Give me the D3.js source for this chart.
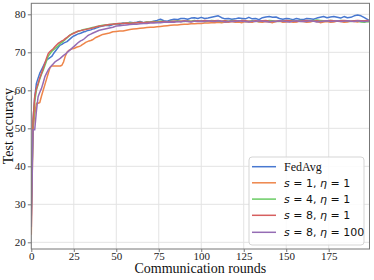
<!DOCTYPE html>
<html><head><meta charset="utf-8">
<script src="https://cdn.jsdelivr.net/npm/d3@7"></script>
<style>body{margin:0;background:#fff}svg{display:block}</style>
</head><body><svg id="c" width="374" height="280"></svg>
<script>
const rounds = [0,1,2,3,4,5,6,7,8,9,10,11,12,13,14,15,16,17,18,19,20,21,22,23,24,25,26,27,28,29,30,31,32,33,34,35,36,37,38,39,
40,42,44,46,48,50,52,54,56,58,60,62,64,66,68,70,72,74,76,78,80,82,84,86,88,90,92,94,96,98,
100,102,104,106,108,110,112,114,116,118,120,122,124,126,128,130,132,134,136,138,140,142,144,146,148,150,152,154,156,158,
160,162,164,166,168,170,172,174,176,178,180,182,184,186,188,190,192,194,196,198,199];
const fedavg = [34.5,52.0,58.0,61.8,63.2,64.5,65.4,66.3,67.2,68.0,
68.3,68.6,68.9,69.6,70.2,70.8,71.4,71.9,72.1,72.4,
72.6,72.8,73.2,73.6,74.0,74.3,74.5,74.7,74.9,75.0,
75.2,75.4,75.5,75.7,75.8,75.9,76.1,76.2,76.4,76.5,
76.7,76.9,77.1,77.0,77.3,77.5,77.4,77.7,77.6,77.9,
77.8,77.9,78.1,77.8,77.9,78.0,78.2,78.4,78.7,78.3,
78.2,78.5,78.7,78.6,78.9,78.9,78.7,79.0,79.1,78.9,
79.2,78.9,79.0,79.2,79.4,79.6,79.1,78.8,78.9,78.7,
78.8,79.0,78.9,78.8,79.2,78.8,78.9,78.6,79.1,79.3,
79.4,79.2,79.3,78.9,78.7,78.9,78.8,78.6,78.9,78.7,
78.6,78.9,78.8,78.7,79.0,79.2,79.4,79.1,79.3,79.4,
79.2,79.0,79.4,79.1,79.2,79.6,79.8,79.6,79.1,78.6,
78.4];
const s1eta1 = [22.0,50.0,53.5,56.6,56.6,56.8,58.5,60.0,61.5,63.0,
64.5,66.0,66.4,66.4,66.4,66.4,66.4,66.4,66.6,67.5,
69.0,70.0,70.5,70.7,70.9,71.0,71.2,71.4,71.5,71.7,
72.0,72.3,72.6,72.8,73.0,73.1,73.3,73.6,73.9,74.1,
74.3,74.7,74.9,75.1,75.4,75.5,75.6,75.6,75.8,76.0,
76.1,76.2,76.3,76.4,76.5,76.6,76.6,76.7,76.8,76.9,
77.0,77.1,77.2,77.2,77.3,77.4,77.4,77.5,77.5,77.6,
77.6,77.7,77.7,77.8,77.8,77.9,77.8,78.0,77.9,78.1,
77.9,78.0,77.8,78.1,78.0,77.9,78.2,78.0,77.9,78.1,
78.0,77.8,78.1,78.2,77.9,78.0,78.1,77.9,78.0,78.2,
78.1,77.9,78.0,78.2,78.1,77.8,78.0,78.1,77.9,78.0,
78.2,78.1,77.9,78.0,78.2,78.1,78.0,78.2,78.3,78.1,
78.2];
const s4eta1 = [29.0,50.0,57.0,60.0,61.5,63.0,64.2,65.3,66.5,67.8,
69.0,69.6,70.2,70.6,71.0,71.4,71.8,72.3,72.6,73.0,
73.4,73.8,74.2,74.6,74.9,75.1,75.3,75.4,75.6,75.7,
75.9,76.0,76.1,76.2,76.3,76.4,76.5,76.6,76.7,76.8,
76.9,77.1,77.2,77.3,77.4,77.5,77.6,77.6,77.7,77.8,
77.7,77.8,77.9,77.8,78.0,77.9,78.1,78.0,78.2,78.1,
78.0,78.2,78.1,78.3,78.2,78.1,78.3,78.2,78.4,78.2,
78.3,78.1,78.2,78.4,78.3,78.2,78.1,78.3,78.2,78.4,
78.3,78.2,78.4,78.1,78.2,78.3,78.2,78.1,78.3,78.2,
78.4,78.3,78.2,78.1,78.3,78.2,78.4,78.3,78.2,78.4,
78.3,78.2,78.4,78.3,78.5,78.4,78.3,78.2,78.4,78.3,
78.2,78.4,78.3,78.2,78.1,78.3,78.2,78.0,77.9,78.1,
78.0];
const s8eta1 = [27.0,52.0,58.3,60.5,61.8,63.3,64.5,65.8,67.1,68.5,
69.7,70.2,70.6,71.0,71.5,72.0,72.4,72.7,73.0,73.2,
73.6,73.9,74.3,74.6,74.8,75.0,75.2,75.5,75.6,75.7,
75.8,75.9,76.0,76.1,76.2,76.3,76.4,76.5,76.7,76.8,
76.9,77.0,77.2,77.3,77.4,77.5,77.6,77.6,77.7,77.6,
77.7,77.8,77.9,77.8,77.9,77.9,78.0,77.9,78.0,78.1,
78.0,78.1,78.2,78.1,78.2,78.3,78.2,78.1,78.2,78.3,
78.2,78.4,78.3,78.2,78.3,78.4,78.2,78.3,78.1,78.2,
78.3,78.2,78.4,78.3,78.2,78.1,78.3,78.2,78.3,78.4,
78.2,78.1,78.2,78.3,78.2,78.4,78.3,78.2,78.1,78.2,
78.3,78.4,78.3,78.2,78.3,78.1,78.2,78.3,78.4,78.3,
78.2,78.3,78.4,78.3,78.2,78.3,78.4,78.3,78.3,78.4,
78.4];
const s8eta100 = [24.0,49.6,49.6,54.5,58.3,59.5,60.5,62.0,63.6,64.5,
65.4,66.0,66.5,67.0,67.5,67.8,68.1,68.4,68.8,69.2,
69.5,69.9,70.3,70.7,71.1,71.5,71.9,72.3,72.7,73.0,
73.2,73.5,73.9,74.3,74.6,74.8,75.0,75.2,75.4,75.6,
75.8,76.0,76.2,76.4,76.6,76.9,77.0,77.1,77.2,77.3,
77.4,77.4,77.5,77.6,77.6,77.7,77.7,77.8,77.8,77.9,
77.9,78.0,77.9,78.1,78.0,78.2,78.1,78.0,78.2,78.1,
78.2,78.1,78.3,78.2,78.1,78.3,78.2,78.0,78.1,78.2,
78.1,78.3,78.2,78.1,78.0,78.2,78.1,78.3,78.2,78.1,
78.0,78.2,78.1,78.3,78.2,78.1,78.0,78.2,78.3,78.1,
78.2,78.1,78.3,78.2,78.0,78.1,78.2,78.3,78.1,78.2,
78.3,78.1,78.2,78.3,78.2,78.1,78.3,78.2,78.1,78.2,
78.3];
const xTicks = [0,25,50,75,100,125,150,175];
const yTicks = [20,30,40,50,60,70,80];
const seriesNames = ["FedAvg","s1","s4","s8","s8b"];
const seriesValues = [fedavg, s1eta1, s4eta1, s8eta1, s8eta100];
const colors = ["#4878d0","#ee854a","#6acc64","#d65f5f","#956cb4"];

const svg = d3.select("#c");
const L = 31.3, R = 369.5, T = 3.3, B = 249;
const x = d3.scaleLinear().domain([0,199]).range([L,R]);
const y = d3.scaleLinear().domain([80 + (14.3-3.3)/3.8, 80 - (249-14.3)/3.8]).range([T,B]);

const serif = "'Liberation Serif','Times New Roman',serif";
// grid
const g = svg.append("g");
g.selectAll(".gx").data(xTicks).join("line")
  .attr("x1",d=>x(d)).attr("x2",d=>x(d)).attr("y1",T).attr("y2",B)
  .attr("stroke","#e3e3e3").attr("stroke-width",1);
g.selectAll(".gy").data(yTicks).join("line")
  .attr("y1",d=>y(d)).attr("y2",d=>y(d)).attr("x1",L).attr("x2",R)
  .attr("stroke","#e3e3e3").attr("stroke-width",1);

// lines
const line = d3.line().x((d,i)=>x(rounds[i])).y(d=>y(d));
const clip = svg.append("clipPath").attr("id","pc").append("rect")
  .attr("x",L).attr("y",T).attr("width",R-L).attr("height",B-T);
seriesValues.forEach((vals,k)=>{
  svg.append("path").attr("d",line(vals)).attr("fill","none")
    .attr("stroke",colors[k]).attr("stroke-width",1.5)
    .attr("stroke-linejoin","round").attr("clip-path","url(#pc)");
});

// axes
const xAxis = svg.append("g").attr("transform",`translate(0,${B})`)
  .call(d3.axisBottom(x).tickValues(xTicks).tickSize(3).tickPadding(0));
const yAxis = svg.append("g").attr("transform",`translate(${L},0)`)
  .call(d3.axisLeft(y).tickValues(yTicks).tickSize(3.5).tickPadding(2));
[xAxis,yAxis].forEach(a=>{
  a.select(".domain").remove();
  a.selectAll("line").attr("stroke","#555").attr("stroke-width",0.8);
  a.selectAll("text").attr("font-family",serif).attr("font-size",11).attr("fill","#222");
});
// frame
svg.append("rect").attr("x",L).attr("y",T).attr("width",R-L).attr("height",B-T)
  .attr("fill","none").attr("stroke","#777").attr("stroke-width",1);

// axis labels
svg.append("text").attr("x",(L+R)/2).attr("y",272.5).attr("text-anchor","middle")
  .attr("font-family",serif).attr("font-size",14).attr("fill","#111").text("Communication rounds");
svg.append("text").attr("transform",`translate(13,${(T+B)/2}) rotate(-90)`).attr("text-anchor","middle")
  .attr("font-family",serif).attr("font-size",14).attr("fill","#111").text("Test accuracy");

// legend
const lg = svg.append("g");
lg.append("rect").attr("x",249).attr("y",157).attr("width",115).attr("height",88).attr("rx",3)
  .attr("fill","rgba(255,255,255,0.85)").attr("stroke","#d5d5d5").attr("stroke-width",1);
const legendLabels = [
  [{t:"FedAvg",f:serif}],
  [{t:"s",i:1},{t:" = 1, "},{t:"η",i:1},{t:" = 1"}],
  [{t:"s",i:1},{t:" = 4, "},{t:"η",i:1},{t:" = 1"}],
  [{t:"s",i:1},{t:" = 8, "},{t:"η",i:1},{t:" = 1"}],
  [{t:"s",i:1},{t:" = 8, "},{t:"η",i:1},{t:" = 100"}]
];
const ly = [166.7,182.8,199.1,215.3,232.3];
legendLabels.forEach((parts,k)=>{
  lg.append("line").attr("x1",252).attr("x2",276).attr("y1",ly[k]).attr("y2",ly[k])
    .attr("stroke",colors[k]).attr("stroke-width",1.5);
  const t = lg.append("text").attr("x",284).attr("y",ly[k]+4).attr("font-size",k===0?12:11)
    .attr("font-family",k===0?serif:"'DejaVu Sans',sans-serif").attr("fill","#111")
    .attr("xml:space","preserve").style("white-space","pre");
  parts.forEach(p=>{
    t.append("tspan").text(p.t).attr("font-style",p.i?"italic":null);
  });
});
</script></body></html>
